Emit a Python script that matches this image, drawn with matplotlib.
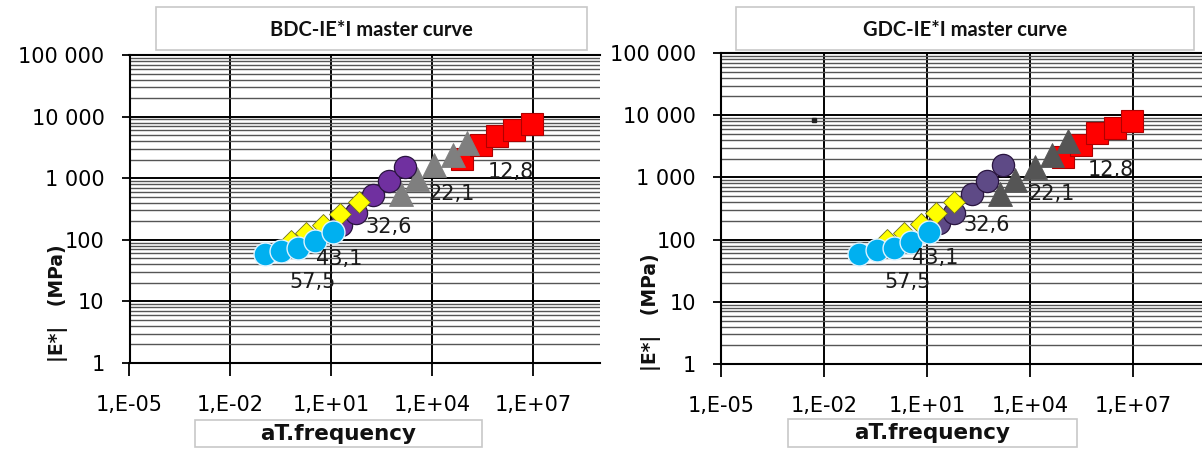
import matplotlib
matplotlib.use("Agg")
import matplotlib.pyplot as plt
from matplotlib.patches import Rectangle
from matplotlib.ticker import FixedLocator, FixedFormatter, LogLocator, NullFormatter

# ---- axis ticks -------------------------------------------------------------
x_ticks = [1e-5, 1e-2, 1e1, 1e4, 1e7]
x_tick_labels = ["1,E-05", "1,E-02", "1,E+01", "1,E+04", "1,E+07"]
y_ticks = [1, 10, 100, 1000, 10000, 100000]
y_tick_labels = ["1", "10", "100", "1 000", "10 000", "100 000"]

# test temperatures (°C), one series each
temperatures = ["12,8", "22,1", "32,6", "43,1", "57,5"]

# ---- BDC mixture: reduced frequency (aT.f) and |E*| (MPa) --------------------
bdc_f_128 = [8.1e4, 2.8e5, 8.7e5, 2.75e6, 9.5e6]
bdc_e_128 = [2070, 3400, 4900, 6000, 7650]
bdc_f_221 = [1.2e3, 3.7e3, 1.17e4, 4.1e4, 1.12e5]
bdc_e_221 = [560, 980, 1610, 2340, 3720]
bdc_f_326 = [19, 56, 174, 540, 1580]
bdc_e_326 = [177, 275, 540, 910, 1540]
bdc_f_431 = [0.65, 1.8, 5.9, 17.8, 66]
bdc_e_431 = [95, 127, 172, 265, 410]
bdc_f_575 = [0.105, 0.33, 1.02, 3.2, 11.2]
bdc_e_575 = [59, 67, 74, 94, 134]

# ---- GDC mixture -------------------------------------------------------------
gdc_f_128 = [9.1e4, 3.0e5, 8.5e5, 2.9e6, 9.1e6]
gdc_e_128 = [2140, 3310, 5130, 6170, 7940]
gdc_f_221 = [1.35e3, 3.6e3, 1.38e4, 4.2e4, 1.29e5]
gdc_e_221 = [550, 910, 1480, 2290, 3800]
gdc_f_326 = [22, 59, 200, 550, 1580]
gdc_e_326 = [182, 263, 550, 870, 1580]
gdc_f_431 = [0.69, 2.1, 6.5, 18.6, 59]
gdc_e_431 = [98, 130, 175, 263, 407]
gdc_f_575 = [0.105, 0.35, 1.07, 3.3, 11.2]
gdc_e_575 = [59, 68, 74, 93, 132]
gdc_f_stray = [0.0052]
gdc_e_stray = [8300]

W, H = 1202, 451
fig = plt.figure(figsize=(W / 100, H / 100), dpi=100)
fig.patch.set_facecolor("white")


def fx(px):
    return px / W


def fy(py):
    return 1 - py / H


def series_styles(purple, grey):
    return [
        dict(marker="s", ms=16, mfc="#FF0000", mec="#B00000", mew=0.8),
        dict(marker="^", ms=17, mfc=grey, mec=grey, mew=0.6),
        dict(marker="o", ms=16, mfc=purple, mec="#2A1540", mew=0.9),
        dict(marker="D", ms=11.5, mfc="#FFFF00", mec="#6E6E20", mew=0.6),
        dict(marker="o", ms=16.5, mfc="#00B0F0", mec="#DDF3FF", mew=1.0),
    ]


# label offsets in pixels from the first point of each series
label_offsets = [(48, -13), (51, 0), (48, -2), (48, -18), (48, -28)]


def build_panel(rect, title, title_box, xlabel_box, ylabel_pos, data,
                purple, grey):
    ax = fig.add_axes(rect)
    ax.set_xscale("log")
    ax.set_yscale("log")
    ax.set_xlim(1e-5, 1e9)
    ax.set_ylim(1, 1e5)

    ax.xaxis.set_major_locator(FixedLocator(x_ticks))
    ax.xaxis.set_major_formatter(FixedFormatter(x_tick_labels))
    ax.xaxis.set_minor_locator(FixedLocator([]))
    ax.yaxis.set_major_locator(FixedLocator(y_ticks))
    ax.yaxis.set_major_formatter(FixedFormatter(y_tick_labels))
    ax.yaxis.set_minor_locator(LogLocator(base=10, subs=range(2, 10), numticks=50))
    ax.yaxis.set_minor_formatter(NullFormatter())

    ax.grid(True, which="major", axis="both", color="black", lw=1.4)
    ax.grid(True, which="minor", axis="y", color="#555555", lw=1.0)
    ax.set_axisbelow(True)

    for s in ("left", "bottom", "top"):
        ax.spines[s].set_color("black")
        ax.spines[s].set_linewidth(1.5)
    ax.spines["right"].set_visible(False)

    ax.tick_params(axis="y", which="major", direction="out", length=6,
                   width=1.3, pad=12, labelsize=15)
    ax.tick_params(axis="y", which="minor", length=0)
    ax.tick_params(axis="x", which="major", direction="out", length=9,
                   width=1.3, pad=14, labelsize=15)

    styles = series_styles(purple, grey)
    for (f, e), st, txt, off in zip(data, styles, temperatures, label_offsets):
        ax.plot(f, e, ls="none", clip_on=False, **st)
        ax.annotate(txt, xy=(f[0], e[0]), xytext=off,
                    textcoords="offset pixels", ha="center", va="center",
                    fontsize=15, color="#1a1a1a")

    # title box
    x0, y0, x1, y1 = title_box
    fig.patches.append(Rectangle((fx(x0), fy(y1)), fx(x1) - fx(x0),
                                 fy(y0) - fy(y1), transform=fig.transFigure,
                                 facecolor="white", edgecolor="#c8c8c8", lw=1.2))
    fig.text(fx((x0 + x1) / 2), fy((y0 + y1) / 2 + 1), title,
             ha="center", va="center", fontsize=14.5,
             fontweight="bold", family=["Lato", "DejaVu Sans"],
             color="#111111")

    # x-axis title box
    x0, y0, x1, y1 = xlabel_box
    fig.patches.append(Rectangle((fx(x0), fy(y1)), fx(x1) - fx(x0),
                                 fy(y0) - fy(y1), transform=fig.transFigure,
                                 facecolor="white", edgecolor="#c8c8c8", lw=1.2))
    fig.text(fx((x0 + x1) / 2), fy((y0 + y1) / 2), "aT.frequency",
             ha="center", va="center", fontsize=15.5, fontweight="bold",
             color="#111111")

    # y-axis title
    fig.text(fx(ylabel_pos[0]), fy(ylabel_pos[1]), "|E*|   (MPa)",
             rotation=90, ha="center", va="center", fontsize=13.5,
             fontweight="bold", color="#111111")
    return ax


bdc_data = [(bdc_f_128, bdc_e_128), (bdc_f_221, bdc_e_221),
            (bdc_f_326, bdc_e_326), (bdc_f_431, bdc_e_431),
            (bdc_f_575, bdc_e_575)]
gdc_data = [(gdc_f_128, gdc_e_128), (gdc_f_221, gdc_e_221),
            (gdc_f_326, gdc_e_326), (gdc_f_431, gdc_e_431),
            (gdc_f_575, gdc_e_575)]

ax_l = build_panel([fx(129.5), fy(363), fx(600) - fx(129.5), fy(55) - fy(363)],
                   "BDC-IE*I master curve", (156, 7, 587, 50),
                   (195, 420, 482, 447), (58, 303), bdc_data,
                   purple="#7030A0", grey="#7F7F7F")

ax_r = build_panel([fx(721), fy(364), fx(1202) - fx(721), fy(53) - fy(364)],
                   "GDC-IE*I master curve", (736, 7, 1194, 50),
                   (788, 419, 1077, 447), (651, 312), gdc_data,
                   purple="#5E4A86", grey="#555555")
ax_r.plot(gdc_f_stray, gdc_e_stray, ls="none", marker="s", ms=2.2,
          mfc="#222222", mec="#222222")

fig.savefig("out.png", dpi=100)
